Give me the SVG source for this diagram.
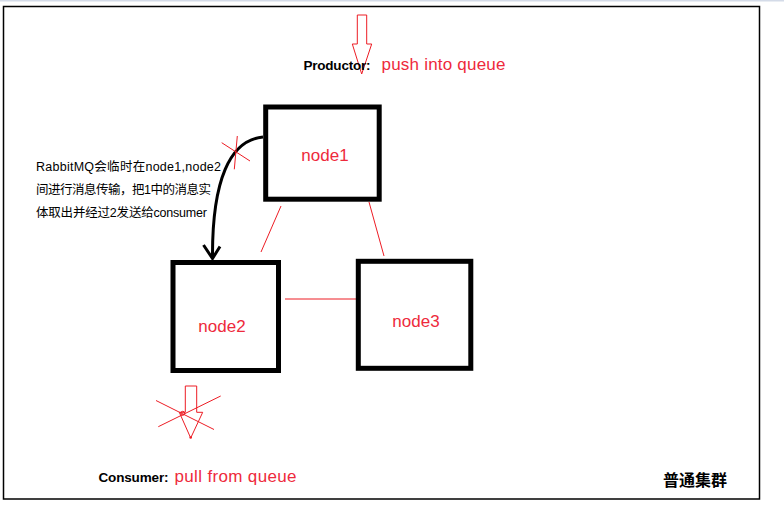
<svg xmlns="http://www.w3.org/2000/svg" width="784" height="514" viewBox="0 0 784 514">
<defs>
<style>
.box{fill:none;stroke:#000;stroke-width:5}
.red{fill:none;stroke:#ed1c24;stroke-width:1}
.lbl{font-family:"Liberation Sans","Noto Sans CJK SC",sans-serif;font-size:17px;fill:#ee2a3c}
.bold{font-family:"Liberation Sans","Noto Sans CJK SC",sans-serif;font-size:13.5px;font-weight:bold;fill:#000}
.note{font-family:"Liberation Sans","Noto Sans CJK SC",sans-serif;font-size:12.5px;fill:#000}
.title{font-family:"Noto Sans CJK SC",sans-serif;font-size:16px;font-weight:bold;fill:#000}
</style>
</defs>
<rect x="0" y="0" width="784" height="514" fill="#fff"/>
<rect x="0" y="0" width="784" height="1.5" fill="#d4dbe8"/>
<rect x="3.5" y="6.5" width="756" height="492.5" fill="none" stroke="#000" stroke-width="1.5"/>

<g id="connectors">
<line class="red" x1="281" y1="206" x2="261" y2="252"/>
<line class="red" x1="369" y1="202" x2="384" y2="256"/>
<line class="red" x1="285" y1="299" x2="356" y2="299"/>
<path d="M263 137 C230 140 212 180 212.5 258" fill="none" stroke="#000" stroke-width="3"/>
<polyline points="203.5,245 212.5,258.5 220,246.5" fill="none" stroke="#000" stroke-width="3"/>
<line class="red" x1="221.7" y1="142.7" x2="250" y2="161"/>
<line class="red" x1="237.3" y1="136" x2="234.3" y2="169.3"/>
</g>

<g id="producer-arrow">
<polygon class="red" points="357.3,15 366.7,15 366.7,44 371.7,44 361.7,74 352.3,44 357.3,44"/>
</g>
<g id="producer-label">
<text class="bold" x="303.5" y="70" textLength="67">Productor:</text>
<text class="lbl" x="381.5" y="70" textLength="124">push into queue</text>
</g>

<g id="node1">
<rect class="box" x="265.7" y="107" width="113.5" height="92.2"/>
<text class="lbl" x="325" y="161" text-anchor="middle">node1</text>
</g>
<g id="node2">
<rect class="box" x="173" y="262.5" width="105.5" height="108"/>
<text class="lbl" x="222" y="332" text-anchor="middle">node2</text>
</g>
<g id="node3">
<rect class="box" x="358.3" y="261.3" width="112.5" height="107"/>
<text class="lbl" x="416" y="327" text-anchor="middle">node3</text>
</g>

<g id="note">
<text class="note" x="36" y="171" textLength="185">RabbitMQ会临时在node1,node2</text>
<text class="note" x="36" y="194" textLength="175">间进行消息传输，把1中的消息实</text>
<text class="note" x="36" y="217" textLength="171">体取出并经过2发送给consumer</text>
</g>

<g id="consumer-arrow">
<polygon class="red" points="185.3,386 196.7,386 196.7,412.3 202.7,412.3 190.7,438 179.3,412.3 185.3,412.3"/>
<circle class="red" cx="182.7" cy="413.3" r="2"/>
<circle cx="190.7" cy="437.5" r="1.3" fill="#ed1c24"/>
<line class="red" x1="156" y1="400.5" x2="214" y2="429.5"/>
<line class="red" x1="158.3" y1="426.7" x2="220.7" y2="396"/>
</g>
<g id="consumer-label">
<text class="bold" x="98.5" y="482" textLength="70">Consumer:</text>
<text class="lbl" x="174.5" y="482" textLength="122">pull from queue</text>
</g>

<g id="title">
<text class="title" x="663" y="486" textLength="64">普通集群</text>
</g>
</svg>
